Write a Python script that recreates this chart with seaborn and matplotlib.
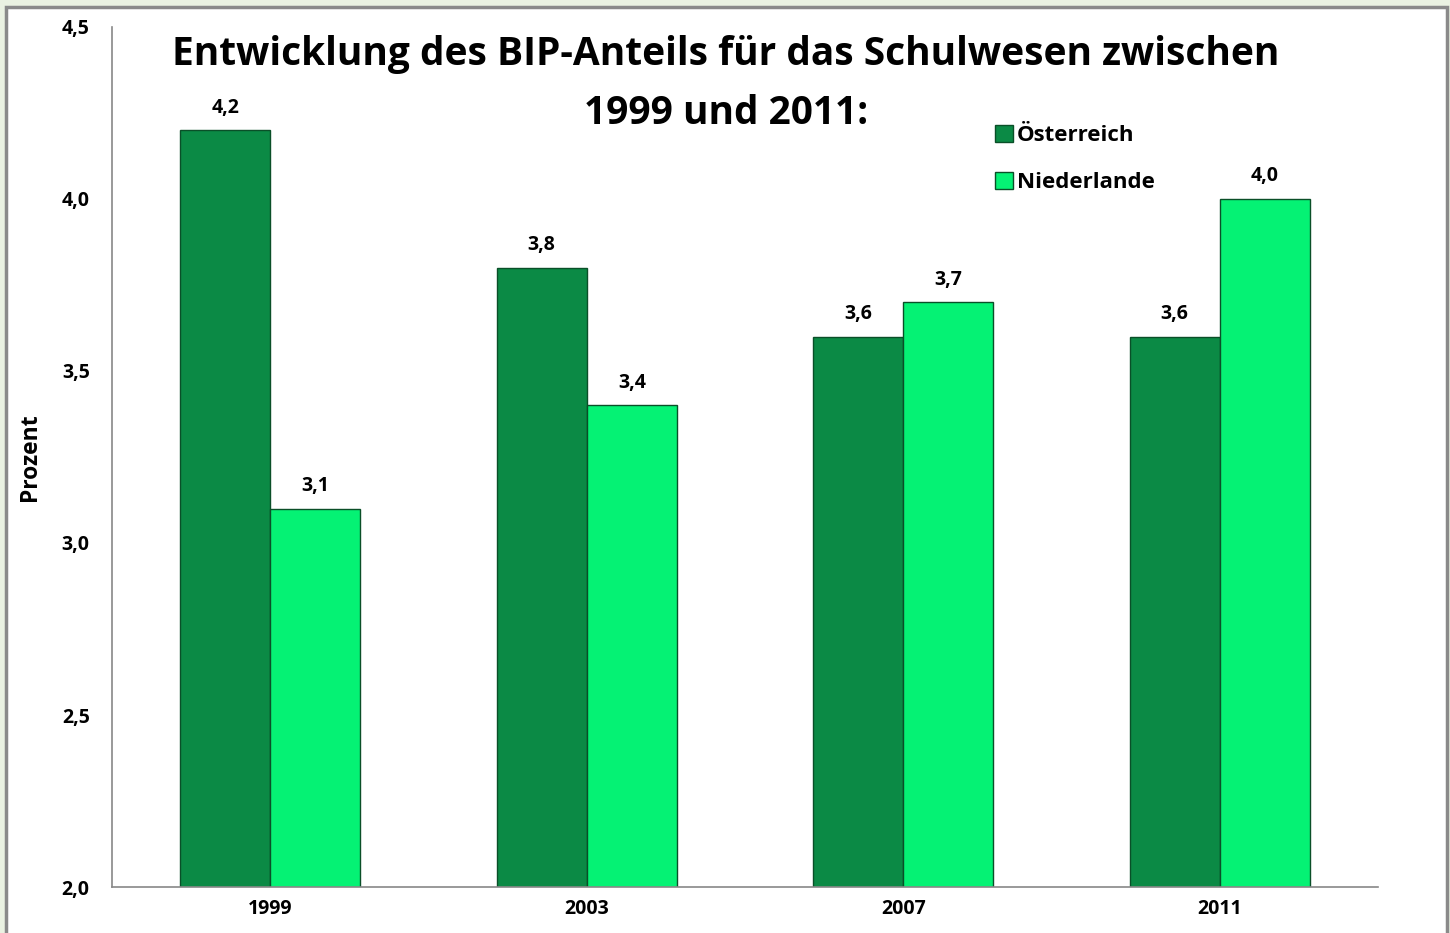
import pandas as pd
import numpy as np
import matplotlib.pyplot as plt
import seaborn as sns
from matplotlib.patches import Rectangle
from matplotlib.ticker import FixedLocator

# data
years = ["1999", "2003", "2007", "2011"]
oesterreich = [4.2, 3.8, 3.6, 3.6]
niederlande = [3.1, 3.4, 3.7, 4.0]
series_names = ["Österreich", "Niederlande"]
title_lines = ["Entwicklung des BIP-Anteils für das Schulwesen zwischen", "1999 und 2011:"]
colors = ["#0B8A45", "#05F274"]

df = pd.DataFrame({
    "Jahr": years * 2,
    "Wert": oesterreich + niederlande,
    "Land": [series_names[0]] * len(years) + [series_names[1]] * len(years),
})

sns.set_style("white")
plt.rcParams["font.family"] = ["Open Sans", "DejaVu Sans"]
plt.rcParams["text.color"] = "black"
plt.rcParams["xtick.labelcolor"] = "black"
plt.rcParams["ytick.labelcolor"] = "black"
plt.rcParams["axes.labelcolor"] = "black"

fig = plt.figure(figsize=(14.5, 9.33), dpi=100)
fig.patch.set_facecolor("#EAF2E2")

# white panel with grey border
fig.add_artist(Rectangle((6 / 1450, -0.05), 1441 / 1450, 1 - 7 / 933 + 0.05,
                         transform=fig.transFigure, facecolor="white",
                         edgecolor="#8A8A8A", linewidth=2.5, zorder=0))

ax = fig.add_axes([112 / 1450, 1 - 887 / 933, (1378 - 112) / 1450, (887 - 27) / 933])
ax.set_facecolor("none")

sns.barplot(data=df, x="Jahr", y="Wert", hue="Land", palette=colors,
            width=0.57, gap=0, edgecolor="#0A4F28", linewidth=1.0,
            saturation=1, ax=ax, legend=False)

ax.set_ylim(2.0, 4.5)
ax.set_xlim(-0.5, 3.5)
yt = np.arange(2.0, 4.51, 0.5)
ax.set_yticks(yt)
ax.set_yticklabels([f"{v:.1f}".replace(".", ",") for v in yt],
                   fontsize=14, fontweight="bold")
ax.set_xticks(range(len(years)))
ax.set_xticklabels(years, fontsize=14, fontweight="bold")
ax.tick_params(axis="x", which="major", length=0, pad=9)
ax.xaxis.set_minor_locator(FixedLocator(np.arange(-0.5, 3.6, 1.0)))
ax.tick_params(axis="x", which="minor", length=8, color="#888888", width=1.2, direction="out")
ax.tick_params(axis="y", length=8, color="#888888", width=1.2, direction="out", pad=8)

for side in ["top", "right"]:
    ax.spines[side].set_visible(False)
for side in ["left", "bottom"]:
    ax.spines[side].set_color("#888888")
    ax.spines[side].set_linewidth(1.2)

ax.set_xlabel("")
ax.set_ylabel("Prozent", fontsize=16.5, fontweight="bold", labelpad=14)

# value labels
for container in ax.containers:
    ax.bar_label(container,
                 labels=[f"{b.get_height():.1f}".replace(".", ",") for b in container],
                 padding=9, fontsize=14, fontweight="bold")

# title (two separate lines)
fig.text(726 / 1450, 1 - 55 / 933, title_lines[0],
         ha="center", va="center", fontsize=28, fontweight="bold")
fig.text(726 / 1450, 1 - 113 / 933, title_lines[1],
         ha="center", va="center", fontsize=28, fontweight="bold")

# legend
handles = [Rectangle((0, 0), 1, 1, facecolor=c, edgecolor="#0A4F28") for c in colors]
leg = fig.legend(handles, series_names, loc="upper left",
                 bbox_to_anchor=(975 / 1450, 1 - 105 / 933),
                 frameon=False, handlelength=0.8, handleheight=0.8,
                 handletextpad=0.2, labelspacing=1.15,
                 prop={"size": 16, "weight": "bold"})

fig.savefig("out.png", dpi=100, facecolor=fig.get_facecolor())
